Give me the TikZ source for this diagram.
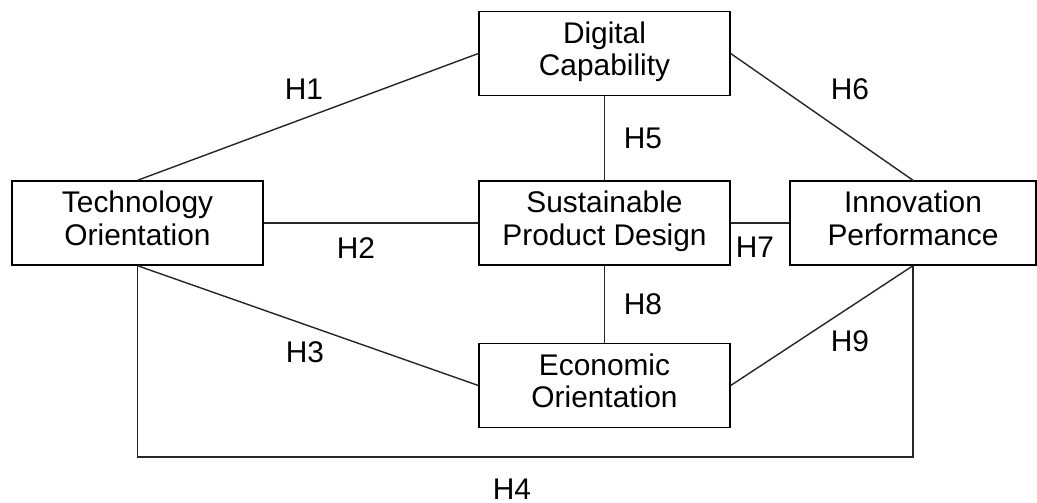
\documentclass[tikz,border=0pt]{standalone}
\usepackage{fontspec}
\setmainfont{Liberation Sans}
\tikzset{
	construct/.style = {draw, rectangle, align = center, line width = 0.8pt,
		minimum width = 5.02cm, minimum height = 1.68cm, inner sep = 0pt,
		font = \fontsize{17}{18.5}\selectfont,
		execute at begin node = \strut, execute at end node = \strut},
	hyp/.style = {font = \fontsize{17}{18.5}\selectfont, inner sep = 0pt},
	path/.style = {line width = 0.8pt, black!85}
}
\begin{document}
\begin{tikzpicture}[x = 0.02cm, y = -0.02cm]

	\useasboundingbox (0,0) rectangle (1037,503);

	\node [construct] (DC) at (604.5,53.5) {Digital\\Capability};
	\node [construct] (TO) at (137.5,223) {Technology\\Orientation};
	\node [construct] (SPD) at (604.5,223) {Sustainable\\Product Design};
	\node [construct, minimum width = 4.92cm] (IP) at (913,223) {Innovation\\Performance};
	\node [construct] (EO) at (604.5,385.5) {Economic\\Orientation};

	\coordinate (bl) at (TO.south |- 0,457);
	\coordinate (br) at (IP.south |- 0,457);

	\draw [path] (TO.north) -- (DC.west);
	\draw [path] (TO.east) -- (SPD.west);
	\draw [path] (TO.south) -- (EO.west);
	\draw [path] (TO.south) -- (bl) -- (br) -- (IP.south);
	\draw [path] (DC.south) -- (SPD.north);
	\draw [path] (DC.east) -- (IP.north);
	\draw [path] (SPD.east) -- (IP.west);
	\draw [path] (SPD.south) -- (EO.north);
	\draw [path] (EO.east) -- (IP.south);

	\node [hyp] (H1) at (304,89) {H1};
	\node [hyp] (H2) at (356,248) {H2};
	\node [hyp] (H3) at (305,352) {H3};
	\node [hyp] (H4) at (512,489) {H4};
	\node [hyp] (H5) at (643,138) {H5};
	\node [hyp] (H6) at (850,89) {H6};
	\node [hyp] (H7) at (755,247) {H7};
	\node [hyp] (H8) at (643,304) {H8};
	\node [hyp] (H9) at (850,341) {H9};

\end{tikzpicture}
\end{document}
